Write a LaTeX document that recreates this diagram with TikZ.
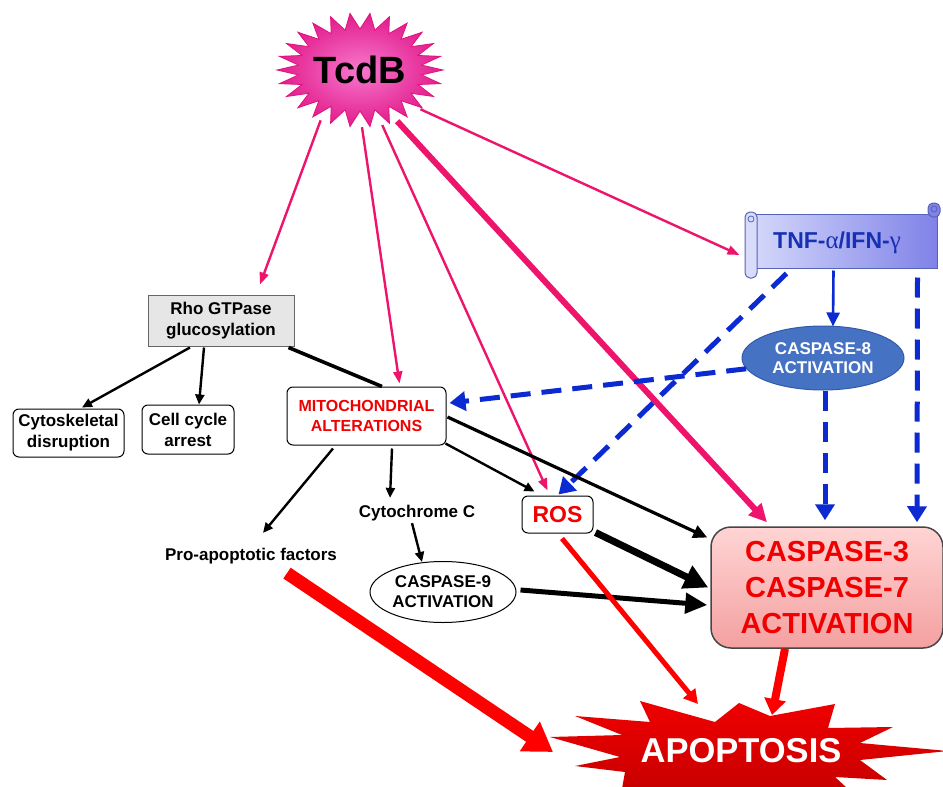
\documentclass[tikz,border=0pt]{standalone}
\usepackage{fontspec}
\setmainfont{Liberation Sans}
\newfontfamily\grk{Liberation Serif}
\usetikzlibrary{arrows.meta,calc,shapes.geometric}
\definecolor{pinkarr}{RGB}{238,20,108}
\definecolor{tcdbdark}{RGB}{226,28,140}
\definecolor{tcdblight}{RGB}{247,120,205}
\definecolor{tcdbedge}{RGB}{225,20,125}
\definecolor{bluearr}{RGB}{12,42,210}
\definecolor{tnftext}{RGB}{22,48,180}
\definecolor{tnfleft}{RGB}{212,216,250}
\definecolor{tnfright}{RGB}{128,130,232}
\definecolor{tnfedge}{RGB}{85,100,180}
\definecolor{c8fill}{RGB}{70,114,196}
\definecolor{c8edge}{RGB}{50,90,170}
\definecolor{rhofill}{RGB}{230,230,230}
\definecolor{c3top}{RGB}{255,212,212}
\definecolor{c3bot}{RGB}{244,160,160}
\definecolor{c3edge}{RGB}{70,70,70}
\definecolor{txtred}{RGB}{240,0,0}
\definecolor{apred}{RGB}{240,0,0}
\definecolor{apdark}{RGB}{195,0,0}
\begin{document}
\begin{tikzpicture}[x=1pt,y=-1pt,font=\bfseries,
  sm/.style={font=\fontsize{17}{21}\selectfont\bfseries},
  rbox/.style={draw, line width=1pt, rounded corners=6pt, fill=white, inner sep=0pt, align=center, sm},
  pa/.style={draw=pinkarr, line width=2.4pt, -{Triangle[length=12pt,width=9pt]}},
  pathick/.style={draw=pinkarr, line width=6pt, -{Triangle[length=18pt,width=17pt]}},
  bsolid/.style={draw=bluearr, line width=2.6pt, -{Triangle[length=14pt,width=13pt]}},
  bdash/.style={draw=bluearr, line width=5pt, dash pattern=on 20pt off 11pt, -{Triangle[length=16pt,width=19pt]}},
  ka/.style={draw=black, line width=2.4pt, -{Triangle[length=10pt,width=9pt]}},
  kmid/.style={draw=black, line width=3.2pt, -{Triangle[length=14pt,width=13pt]}},
  kline/.style={draw=black, line width=3.6pt},
  kthick/.style={draw=black, line width=5pt, -{Triangle[length=22pt,width=20pt]}},
  kthickb/.style={draw=black, line width=7pt, -{Triangle[length=24pt,width=24pt]}},
  ra/.style={draw=red, line width=5pt, -{Triangle[length=14pt,width=15pt]}},
  rab/.style={draw=red, line width=8pt, -{Triangle[length=16pt,width=21pt]}},
  rac/.style={draw=red, line width=13pt, -{Triangle[length=28pt,width=34pt]}}
]
\useasboundingbox (0,0) rectangle (943,787);
\fill[white] (0,0) rectangle (943,787);

% ---------- APOPTOSIS star ----------
\begin{scope}
\clip (0,0) rectangle (943,787);
\path[top color=apred, bottom color=apdark]
  (550,737) -- (622,735) -- (575,716) -- (650,722) -- (640,701) -- (715,722)
  -- (739,703) -- (770,716) -- (835,704) -- (828,728) -- (893,727) -- (860,743)
  -- (948,751) -- (860,760) -- (887,780) -- (835,777) -- (860,800) -- (620,800)
  -- (625,772) -- (575,766) -- (620,757) -- cycle;
\end{scope}
\node[text=white, font=\fontsize{34.5}{36}\selectfont\bfseries] (apop) at (741,751) {APOPTOSIS};

% ---------- TcdB star ----------
\path[draw=tcdbedge, line width=0.8pt, inner color=tcdblight, outer color=tcdbdark]
  (443,70) \foreach \i in {1,...,51} {
    -- ({360+(isodd(\i)?62:83)*cos(\i*6.923077)},{70+(isodd(\i)?41:57)*sin(\i*6.923077)}) } -- cycle;
\node[ellipse, minimum width=166pt, minimum height=114pt, inner sep=0pt,
      font=\fontsize{38}{40}\selectfont\bfseries] (tcdb) at (360,70) {TcdB};

% ---------- TNF scroll ----------
\node[draw=tnfedge, line width=1pt, left color=tnfleft, right color=tnfright,
      minimum width=185pt, minimum height=54pt, inner sep=0pt] (tnf) at (844.5,241) {};
\draw[tnfedge, line width=1pt, fill=tnfleft!90!white, rounded corners=5pt] (745,212) rectangle (757,278);
\draw[tnfedge, line width=0.8pt] (751,219) circle (3);
\draw[tnfedge, line width=1pt, fill=tnfright, rounded corners=5pt] (928,203) rectangle (940,217);
\draw[tnfedge, line width=0.8pt] (934,209) circle (3);
\node[text=tnftext, font=\fontsize{23}{26}\selectfont\bfseries] (tnflabel) at (837,243)
  {TNF-{\mdseries\grk\fontsize{25}{26}\selectfont α}/IFN-{\mdseries\grk\fontsize{25}{26}\selectfont γ}};

% ---------- other nodes ----------
\node[ellipse, draw=c8edge, line width=1pt, fill=c8fill, text=white, minimum width=162pt,
      minimum height=64pt, inner sep=0pt, align=center, font=\fontsize{17}{19}\selectfont\bfseries]
      (casp8) at (823,358) {CASPASE-8\\ACTIVATION};
\node[draw=black!60, line width=1pt, fill=rhofill, minimum width=146pt, minimum height=51pt,
      inner sep=0pt, align=center, sm] (rho) at (221,320.5) {Rho GTPase\\glucosylation};
\node[rbox, minimum width=111pt, minimum height=48pt] (cyto) at (68.5,433) {Cytoskeletal\\disruption};
\node[rbox, minimum width=92pt, minimum height=49pt] (cell) at (188,429.5) {Cell cycle\\arrest};
\node[rbox, minimum width=159pt, minimum height=58pt, text=txtred,
      font=\fontsize{16}{20}\selectfont\bfseries] (mito) at (366.5,416) {MITOCHONDRIAL\\ALTERATIONS};
\node[inner sep=0pt, sm] (cytc) at (417,513) {Cytochrome C};
\node[inner sep=0pt, sm] (pro) at (251,556) {Pro-apoptotic factors};
\node[ellipse, draw, line width=1pt, fill=white, minimum width=146pt, minimum height=61pt,
      inner sep=0pt, align=center, font=\fontsize{17}{20}\selectfont\bfseries] (casp9) at (443,592) {CASPASE-9\\ACTIVATION};
\node[rbox, minimum width=71pt, minimum height=37pt, text=txtred,
      font=\fontsize{23}{26}\selectfont\bfseries] (ros) at (557.5,514.5) {ROS};
\node[draw=c3edge, line width=1.5pt, rounded corners=20pt, top color=c3top, bottom color=c3bot,
      minimum width=232pt, minimum height=121pt, inner sep=0pt, align=center, text=txtred,
      font=\fontsize{29}{36}\selectfont\bfseries] (casp3) at (827,587.5) {CASPASE-3\\CASPASE-7\\ACTIVATION};

% ---------- pink arrows from TcdB ----------
\draw[pa] (tcdb.232) -- ($(rho.north)+(39,-10)$);
\draw[pa] (tcdb.272) -- ($(mito.north)+(33,-3)$);
\draw[pa] (tcdb.292) -- ($(ros.north)+(-10,-5)$);
\draw[pathick] (tcdb.306) -- ($(casp3.north)+(-60,-4)$);
\draw[pa] (tcdb.327) -- ($(tnf.west)+(-12,14)$);

% ---------- blue arrows ----------
\draw[bsolid] ($(tnf.south)+(-11,2)$) -- ($(casp8.north)+(10,1)$);
\draw[bdash] ($(tnf.south west)+(35,5)$) -- ($(ros.north)+(1,-1)$);
\draw[bdash] (casp8.188) -- ($(mito.east)+(3,-13)$);
\draw[bdash] ($(casp8.south)+(2,0)$) -- ($(casp3.north)+(-2,-6)$);
\draw[bdash] ($(tnf.south)+(73,9)$) -- ($(casp3.north)+(90,-4)$);

% ---------- black arrows ----------
\draw[ka] ($(rho.south)+(-31,1)$) -- ($(cyto.north)+(13.5,-1)$);
\draw[ka] ($(rho.south)+(-17,1)$) -- ($(cell.north)+(11,0)$);
\draw[kline] ($(rho.south east)+(-6,1)$) -- ($(mito.north)+(15.5,0)$);
\draw[ka] ($(mito.south)+(-33.5,3)$) -- ($(pro.north)+(12,-15)$);
\draw[ka] ($(mito.south)+(25.5,3)$) -- ($(cytc.north)+(-27,-7)$);
\draw[ka] ($(mito.south east)+(-1,-2)$) -- ($(ros.north west)+(13,-4)$);
\draw[kmid] ($(mito.east)+(1,1)$) -- ($(casp3.west)+(-3,-50)$);
\draw[ka] ($(cytc.south)+(-5,2)$) -- ($(casp9.north)+(-21,1)$);
\draw[kthick] ($(casp9.east)+(4,-2)$) -- ($(casp3.west)+(-3,17.5)$);
\draw[kthickb] ($(ros.south east)+(2,-1)$) -- ($(casp3.west)+(-2,0)$);

% ---------- red arrows ----------
\draw[ra] ($(ros.south)+(4.5,5)$) -- ($(apop)+(-43,-47)$);
\draw[rab] ($(casp3.south)+(-42,0)$) -- ($(apop)+(31,-36)$);
\draw[rac] ($(pro.south)+(36,9)$) -- ($(apop)+(-188,1)$);
\end{tikzpicture}
\end{document}
